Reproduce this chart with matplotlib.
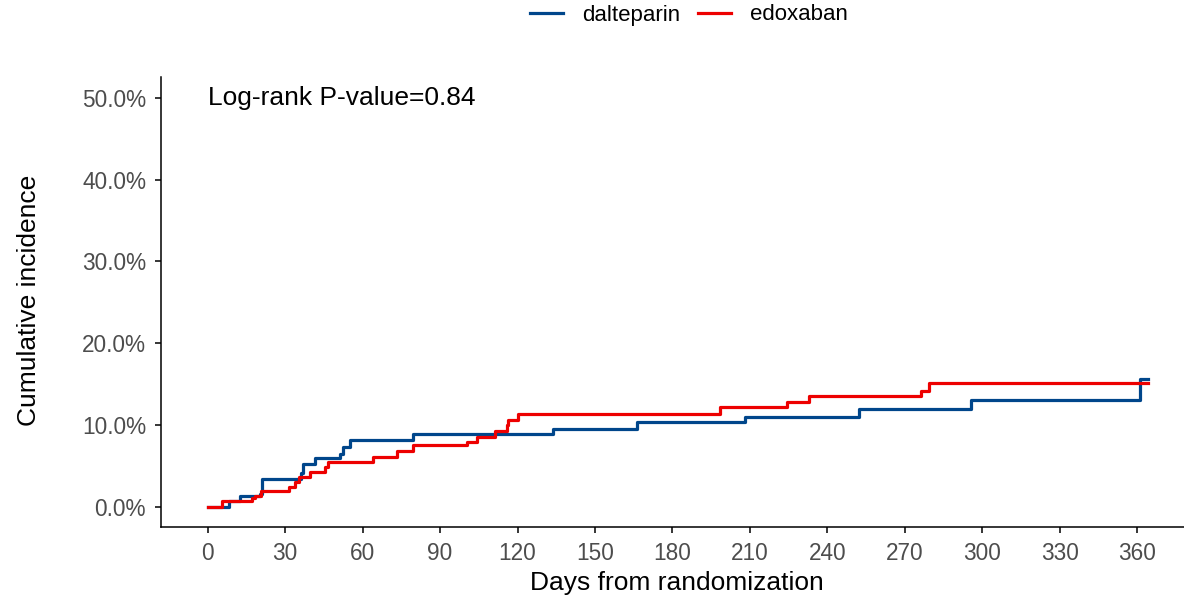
import numpy as np
import matplotlib
matplotlib.use("Agg")
import matplotlib.pyplot as plt
from matplotlib.lines import Line2D
from matplotlib.ticker import FuncFormatter

plt.rcParams["font.family"] = ["Liberation Sans", "DejaVu Sans"]

# cumulative incidence (%), step changes at these days
dalteparin_days = [0, 8.4, 12.5, 20.3, 21.1, 36.0, 37.0, 41.6, 51.2, 52.3, 55.1,
                   79.4, 133.6, 166.1, 208.1, 252.4, 295.5, 361.1, 364.3]
dalteparin_inc = [0, 0.65, 1.25, 1.6, 3.4, 4.1, 5.2, 5.95, 6.5, 7.25, 8.2,
                  8.85, 9.5, 10.4, 11.0, 11.9, 13.05, 15.6, 15.6]

edoxaban_days = [0, 5.4, 17.2, 18.5, 20.6, 31.4, 33.8, 35.3, 39.6, 45.4, 46.7,
                 64.1, 73.4, 79.6, 100.3, 104.2, 111.3, 115.8, 116.4, 120.3,
                 198.4, 224.2, 233.0, 276.4, 279.3, 364.3]
edoxaban_inc = [0, 0.65, 1.05, 1.35, 1.9, 2.45, 3.05, 3.65, 4.3, 4.9, 5.45,
                6.1, 6.8, 7.5, 7.9, 8.55, 9.25, 9.95, 10.6, 11.3,
                12.15, 12.8, 13.5, 14.2, 15.1, 15.1]

groups = ["dalteparin", "edoxaban"]
colors = ["#00468B", "#ED0000"]
x_ticks = list(range(0, 361, 30))
y_ticks = [0, 10, 20, 30, 40, 50]
p_text = "Log-rank P-value=0.84"

fig = plt.figure(figsize=(11.84, 6.02), dpi=100)
ax = fig.add_axes([0.1357, 0.1243, 0.8643, 0.7473])

ax.step(dalteparin_days, dalteparin_inc, where="post", color=colors[0], lw=2.3)
ax.step(edoxaban_days, edoxaban_inc, where="post", color=colors[1], lw=2.3)

ax.set_xlim(-18.2, 378.1)
ax.set_ylim(-2.5, 52.5)
ax.set_xticks(x_ticks)
ax.set_yticks(y_ticks)
ax.yaxis.set_major_formatter(FuncFormatter(lambda v, _: f"{v:.1f}%"))

for s in ["top", "right"]:
    ax.spines[s].set_visible(False)
for s in ["left", "bottom"]:
    ax.spines[s].set_linewidth(1.1)
ax.tick_params(axis="both", length=4.5, width=1.1, colors="black",
               labelcolor="#4D4D4D", labelsize=16.3, pad=6)

ax.set_xlabel("Days from randomization", fontsize=19)
ax.set_ylabel("Cumulative incidence", fontsize=19)
ax.xaxis.set_label_coords(0.5045, -0.098)
ax.yaxis.set_label_coords(-0.117, 0.505)

ax.text(0, 50, p_text, ha="left", va="center", fontsize=19)

handles = [Line2D([], [], color=c, lw=2.3) for c in colors]
fig.legend(handles, groups, loc="center", bbox_to_anchor=(689 / 1184, 1 - 15 / 602),
           ncol=2, frameon=False, fontsize=16, handlelength=1.5,
           handletextpad=0.86, columnspacing=0.78)

fig.savefig("out.png", dpi=100)
